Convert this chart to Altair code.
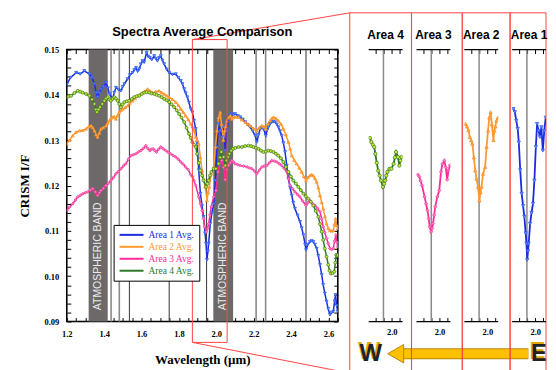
import altair as alt
import pandas as pd

# ------------------------------------------------------------------ data
SERIES = ["Area 1 Avg.", "Area 2 Avg.", "Area 3 Avg.", "Area 4 Avg."]

wl_area1 = [1.200, 1.220, 1.250, 1.272, 1.294, 1.321, 1.335, 1.348, 1.357, 1.365, 1.374, 1.383, 1.396, 1.410, 1.420, 1.428, 1.445, 1.454, 1.463, 1.476, 1.490, 1.499, 1.508, 1.525, 1.538, 1.552, 1.561, 1.570, 1.579, 1.588, 1.596, 1.605, 1.614, 1.627, 1.635, 1.644, 1.655, 1.668, 1.676, 1.685, 1.694, 1.703, 1.712, 1.721, 1.735, 1.748, 1.765, 1.783, 1.797, 1.810, 1.819, 1.828, 1.836, 1.845, 1.854, 1.863, 1.872, 1.881, 1.890, 1.897, 1.906, 1.915, 1.924, 1.932, 1.940, 1.945, 1.950, 1.955, 1.959, 1.968, 1.977, 1.986, 1.995, 2.004, 2.012, 2.021, 2.030, 2.039, 2.048, 2.057, 2.066, 2.075, 2.084, 2.092, 2.101, 2.115, 2.128, 2.142, 2.155, 2.168, 2.181, 2.195, 2.208, 2.217, 2.226, 2.235, 2.244, 2.252, 2.265, 2.272, 2.279, 2.288, 2.297, 2.306, 2.315, 2.324, 2.332, 2.341, 2.350, 2.359, 2.368, 2.377, 2.386, 2.395, 2.404, 2.412, 2.421, 2.435, 2.448, 2.457, 2.466, 2.475, 2.480, 2.490, 2.501, 2.510, 2.519, 2.528, 2.537, 2.546, 2.555, 2.564, 2.572, 2.581, 2.590, 2.599, 2.608, 2.617, 2.626, 2.633, 2.638, 2.644, 2.650]
if_area1 = [0.1423, 0.1438, 0.1449, 0.1446, 0.1453, 0.1446, 0.1438, 0.1424, 0.1405, 0.1395, 0.1404, 0.1413, 0.1418, 0.1427, 0.1415, 0.1402, 0.1391, 0.1405, 0.1416, 0.1412, 0.1409, 0.1418, 0.1424, 0.1435, 0.1444, 0.1449, 0.1455, 0.1460, 0.1452, 0.1457, 0.1468, 0.1475, 0.1472, 0.1493, 0.1485, 0.1482, 0.1478, 0.1486, 0.1480, 0.1475, 0.1482, 0.1486, 0.1476, 0.1468, 0.1456, 0.1449, 0.1445, 0.1446, 0.1438, 0.1431, 0.1424, 0.1413, 0.1404, 0.1395, 0.1383, 0.1369, 0.1362, 0.1343, 0.1325, 0.1295, 0.1234, 0.1182, 0.1155, 0.1131, 0.1095, 0.1072, 0.1036, 0.1055, 0.1072, 0.1116, 0.1140, 0.1160, 0.1211, 0.1285, 0.1336, 0.1321, 0.1307, 0.1329, 0.1277, 0.1321, 0.1350, 0.1356, 0.1358, 0.1356, 0.1358, 0.1354, 0.1351, 0.1346, 0.1340, 0.1334, 0.1329, 0.1320, 0.1310, 0.1296, 0.1312, 0.1325, 0.1327, 0.1325, 0.1310, 0.1322, 0.1329, 0.1336, 0.1340, 0.1341, 0.1340, 0.1335, 0.1329, 0.1320, 0.1310, 0.1294, 0.1274, 0.1244, 0.1215, 0.1195, 0.1178, 0.1162, 0.1149, 0.1134, 0.1120, 0.1106, 0.1091, 0.1070, 0.1058, 0.1070, 0.1076, 0.1078, 0.1076, 0.1070, 0.1061, 0.1045, 0.1025, 0.1003, 0.0981, 0.0962, 0.0944, 0.0928, 0.0915, 0.0920, 0.0922, 0.0945, 0.0959, 0.0935, 0.0922]

wl_area2 = [1.200, 1.214, 1.232, 1.250, 1.268, 1.285, 1.303, 1.317, 1.330, 1.339, 1.348, 1.357, 1.365, 1.374, 1.383, 1.396, 1.410, 1.419, 1.428, 1.436, 1.445, 1.454, 1.463, 1.472, 1.481, 1.490, 1.499, 1.512, 1.525, 1.538, 1.552, 1.565, 1.579, 1.592, 1.605, 1.618, 1.632, 1.645, 1.659, 1.676, 1.694, 1.708, 1.721, 1.735, 1.748, 1.765, 1.783, 1.797, 1.810, 1.823, 1.836, 1.850, 1.863, 1.872, 1.881, 1.890, 1.898, 1.906, 1.915, 1.924, 1.932, 1.941, 1.950, 1.957, 1.963, 1.973, 1.986, 1.995, 2.004, 2.012, 2.021, 2.028, 2.038, 2.044, 2.050, 2.057, 2.066, 2.075, 2.084, 2.092, 2.101, 2.119, 2.137, 2.155, 2.168, 2.181, 2.199, 2.217, 2.230, 2.244, 2.255, 2.265, 2.277, 2.288, 2.297, 2.306, 2.319, 2.332, 2.346, 2.359, 2.372, 2.386, 2.395, 2.404, 2.417, 2.430, 2.444, 2.457, 2.468, 2.480, 2.490, 2.501, 2.510, 2.519, 2.528, 2.537, 2.546, 2.555, 2.564, 2.572, 2.581, 2.590, 2.599, 2.608, 2.617, 2.626, 2.633, 2.638, 2.644, 2.650]
if_area2 = [0.1292, 0.1300, 0.1310, 0.1318, 0.1321, 0.1322, 0.1325, 0.1330, 0.1332, 0.1328, 0.1321, 0.1312, 0.1307, 0.1316, 0.1325, 0.1328, 0.1332, 0.1338, 0.1343, 0.1348, 0.1351, 0.1352, 0.1347, 0.1355, 0.1362, 0.1366, 0.1369, 0.1372, 0.1376, 0.1382, 0.1387, 0.1392, 0.1398, 0.1401, 0.1405, 0.1408, 0.1413, 0.1409, 0.1405, 0.1407, 0.1409, 0.1405, 0.1402, 0.1398, 0.1395, 0.1390, 0.1384, 0.1377, 0.1369, 0.1362, 0.1354, 0.1346, 0.1336, 0.1330, 0.1322, 0.1307, 0.1300, 0.1292, 0.1262, 0.1233, 0.1215, 0.1197, 0.1167, 0.1185, 0.1197, 0.1226, 0.1241, 0.1285, 0.1321, 0.1350, 0.1362, 0.1335, 0.1300, 0.1321, 0.1330, 0.1343, 0.1350, 0.1354, 0.1347, 0.1352, 0.1351, 0.1351, 0.1345, 0.1340, 0.1336, 0.1332, 0.1326, 0.1321, 0.1328, 0.1332, 0.1330, 0.1325, 0.1336, 0.1343, 0.1348, 0.1351, 0.1348, 0.1343, 0.1336, 0.1325, 0.1312, 0.1296, 0.1281, 0.1266, 0.1256, 0.1248, 0.1239, 0.1230, 0.1220, 0.1211, 0.1218, 0.1222, 0.1224, 0.1222, 0.1216, 0.1208, 0.1195, 0.1178, 0.1163, 0.1149, 0.1132, 0.1116, 0.1106, 0.1101, 0.1100, 0.1101, 0.1115, 0.1127, 0.1112, 0.1105]

wl_area3 = [1.200, 1.214, 1.232, 1.246, 1.259, 1.272, 1.285, 1.299, 1.312, 1.326, 1.339, 1.352, 1.365, 1.374, 1.383, 1.396, 1.410, 1.423, 1.436, 1.450, 1.463, 1.476, 1.490, 1.503, 1.516, 1.530, 1.543, 1.556, 1.570, 1.583, 1.596, 1.610, 1.623, 1.633, 1.644, 1.653, 1.662, 1.671, 1.680, 1.691, 1.703, 1.716, 1.730, 1.743, 1.756, 1.770, 1.783, 1.797, 1.810, 1.823, 1.836, 1.850, 1.863, 1.872, 1.881, 1.890, 1.906, 1.915, 1.924, 1.932, 1.938, 1.947, 1.953, 1.959, 1.966, 1.973, 1.986, 1.998, 2.009, 2.018, 2.030, 2.039, 2.048, 2.057, 2.066, 2.075, 2.084, 2.092, 2.101, 2.115, 2.128, 2.146, 2.164, 2.177, 2.190, 2.204, 2.217, 2.230, 2.244, 2.257, 2.270, 2.284, 2.297, 2.310, 2.324, 2.337, 2.350, 2.363, 2.377, 2.386, 2.395, 2.408, 2.421, 2.435, 2.448, 2.462, 2.480, 2.490, 2.501, 2.515, 2.528, 2.541, 2.555, 2.564, 2.572, 2.581, 2.590, 2.599, 2.608, 2.617, 2.626, 2.633, 2.640, 2.646, 2.650]
if_area3 = [0.1145, 0.1152, 0.1160, 0.1168, 0.1175, 0.1178, 0.1182, 0.1184, 0.1186, 0.1190, 0.1193, 0.1186, 0.1178, 0.1184, 0.1189, 0.1194, 0.1200, 0.1205, 0.1211, 0.1218, 0.1226, 0.1231, 0.1237, 0.1243, 0.1248, 0.1258, 0.1266, 0.1268, 0.1270, 0.1274, 0.1277, 0.1282, 0.1288, 0.1282, 0.1277, 0.1280, 0.1281, 0.1277, 0.1274, 0.1280, 0.1285, 0.1281, 0.1277, 0.1273, 0.1270, 0.1266, 0.1263, 0.1258, 0.1252, 0.1247, 0.1241, 0.1235, 0.1224, 0.1220, 0.1210, 0.1200, 0.1175, 0.1160, 0.1145, 0.1127, 0.1109, 0.1098, 0.1105, 0.1116, 0.1135, 0.1153, 0.1175, 0.1189, 0.1230, 0.1248, 0.1255, 0.1240, 0.1213, 0.1235, 0.1245, 0.1250, 0.1255, 0.1252, 0.1248, 0.1246, 0.1244, 0.1243, 0.1241, 0.1239, 0.1237, 0.1232, 0.1226, 0.1234, 0.1241, 0.1243, 0.1244, 0.1250, 0.1255, 0.1254, 0.1252, 0.1248, 0.1244, 0.1238, 0.1230, 0.1215, 0.1200, 0.1193, 0.1186, 0.1180, 0.1175, 0.1166, 0.1156, 0.1162, 0.1167, 0.1160, 0.1156, 0.1150, 0.1142, 0.1126, 0.1109, 0.1096, 0.1083, 0.1072, 0.1061, 0.1059, 0.1061, 0.1078, 0.1091, 0.1075, 0.1065]

wl_area4 = [1.200, 1.210, 1.223, 1.241, 1.259, 1.272, 1.285, 1.303, 1.321, 1.335, 1.348, 1.356, 1.362, 1.370, 1.378, 1.390, 1.401, 1.410, 1.419, 1.428, 1.436, 1.445, 1.454, 1.463, 1.472, 1.481, 1.490, 1.499, 1.508, 1.521, 1.534, 1.548, 1.561, 1.574, 1.588, 1.601, 1.614, 1.627, 1.641, 1.654, 1.668, 1.681, 1.694, 1.708, 1.721, 1.735, 1.748, 1.761, 1.774, 1.788, 1.801, 1.814, 1.828, 1.841, 1.854, 1.863, 1.872, 1.881, 1.890, 1.897, 1.906, 1.915, 1.924, 1.932, 1.945, 1.952, 1.959, 1.966, 1.973, 1.986, 1.998, 2.012, 2.020, 2.027, 2.039, 2.048, 2.055, 2.062, 2.070, 2.080, 2.090, 2.101, 2.119, 2.137, 2.155, 2.172, 2.186, 2.199, 2.212, 2.226, 2.239, 2.252, 2.265, 2.279, 2.292, 2.306, 2.319, 2.332, 2.346, 2.359, 2.372, 2.386, 2.399, 2.412, 2.426, 2.439, 2.452, 2.466, 2.479, 2.492, 2.506, 2.519, 2.532, 2.546, 2.555, 2.564, 2.572, 2.581, 2.590, 2.599, 2.606, 2.613, 2.622, 2.631, 2.637, 2.642, 2.647, 2.650]
if_area4 = [0.1395, 0.1397, 0.1398, 0.1404, 0.1409, 0.1407, 0.1405, 0.1402, 0.1398, 0.1390, 0.1380, 0.1368, 0.1362, 0.1368, 0.1373, 0.1380, 0.1387, 0.1392, 0.1395, 0.1390, 0.1387, 0.1391, 0.1395, 0.1392, 0.1387, 0.1380, 0.1373, 0.1379, 0.1384, 0.1386, 0.1387, 0.1391, 0.1395, 0.1397, 0.1398, 0.1402, 0.1405, 0.1406, 0.1405, 0.1403, 0.1402, 0.1400, 0.1398, 0.1395, 0.1391, 0.1388, 0.1384, 0.1379, 0.1373, 0.1366, 0.1358, 0.1350, 0.1340, 0.1327, 0.1314, 0.1305, 0.1296, 0.1290, 0.1285, 0.1270, 0.1250, 0.1233, 0.1222, 0.1211, 0.1197, 0.1204, 0.1211, 0.1222, 0.1230, 0.1237, 0.1237, 0.1248, 0.1262, 0.1274, 0.1263, 0.1244, 0.1255, 0.1263, 0.1270, 0.1277, 0.1281, 0.1283, 0.1285, 0.1285, 0.1287, 0.1288, 0.1287, 0.1285, 0.1283, 0.1281, 0.1277, 0.1274, 0.1275, 0.1277, 0.1276, 0.1274, 0.1270, 0.1266, 0.1260, 0.1252, 0.1241, 0.1230, 0.1220, 0.1211, 0.1204, 0.1197, 0.1190, 0.1182, 0.1176, 0.1171, 0.1164, 0.1156, 0.1144, 0.1131, 0.1115, 0.1098, 0.1080, 0.1061, 0.1043, 0.1025, 0.1012, 0.1006, 0.1007, 0.1010, 0.1030, 0.1047, 0.1045, 0.1047]

BAND_START = [1.317, 1.984]
BAND_END = [1.419, 2.090]
BAND_TEXT = ["ATMOSPHERIC BAND", "ATMOSPHERIC BAND"]
LINES_LIGHT = [1.437, 1.481, 2.213, 2.264]
LINES_DARK = [1.535, 1.748, 1.948, 2.480]
MAIN_TITLE = "Spectra Average Comparison"
PANEL_TITLES = ["Area 4", "Area 3", "Area 2", "Area 1"]
PANEL_SERIES = [3, 2, 1, 0]

# ------------------------------------------------------------------ styles
SERIF = "Liberation Serif"
SANS = "Liberation Sans"
LINE_COLORS = ["#1c2be0", "#ff9a30", "#ff2a98", "#2b7a2b"]
MARK_FILL = ["#6a98ff", "#ffb060", "#ff7cc0", "#c9e83a"]
MARK_STROKE = ["#2a55f0", "#ff8a1a", "#f23c9e", "#3a7a20"]
SHAPES = ["triangle-down", "triangle-up", "diamond", "circle"]
RED = "#ff4444"
BAND_GRAY = "#6e6969"
GOLD = "#ffc000"

XD = [1.2, 2.65]
YD = [0.09, 0.15]
PW = [1.855, 2.068]          # zoom window of the small panels
W_MAIN, H = 272, 273
W_PANEL = 34

series_wl = [wl_area1, wl_area2, wl_area3, wl_area4]
series_if = [if_area1, if_area2, if_area3, if_area4]
rows = []
for name, w, v in zip(SERIES, series_wl, series_if):
    assert len(w) == len(v), name
    for a, b in zip(w, v):
        rows.append({"series": name, "wl": a, "iF": b})
df = pd.DataFrame(rows)

one = pd.DataFrame({"k": [0]})
xs = alt.Scale(domain=XD, nice=False, zero=False)
ys = alt.Scale(domain=YD, nice=False, zero=False)

x_ticks = [round(1.2 + 0.05 * k, 2) for k in range(30)]
y_ticks = [round(0.09 + 0.002 * k, 3) for k in range(31)]

lab = dict(labelFont=SERIF, labelFontWeight="bold", labelFontSize=8.5, labelColor="black")
tick = dict(domain=False, tickSize=4, offset=-4, tickColor="black", tickWidth=1, grid=False)

ax_bottom = alt.Axis(orient="bottom", values=x_ticks, labelFlush=False, labelOverlap=False,
                     labelExpr="round(datum.value*100) % 20 == 0 ? format(datum.value, '.1f') : ''",
                     labelPadding=8, title="Wavelength (µm)", titleFont=SERIF, titleFontSize=13,
                     titleFontWeight="bold", titleColor="black", titlePadding=16, **lab, **tick)
ax_left = alt.Axis(orient="left", values=y_ticks, labelFlush=False, labelOverlap=False,
                   labelExpr="round(datum.value*1000) % 10 == 0 ? format(datum.value, '.2f') : ''",
                   labelPadding=8, title="CRISM I/F", titleFont=SERIF, titleFontSize=13,
                   titleFontWeight="bold", titleColor="black", titlePadding=13, **lab, **tick)
ax_top = alt.Axis(orient="top", values=x_ticks, labels=False, title=None, **tick)
ax_right = alt.Axis(orient="right", values=y_ticks, labels=False, title=None, **tick)

label_color_expr = " : ".join(
    f"datum.label == '{s}' ? '{c}'" for s, c in zip(SERIES, LINE_COLORS)
) + " : 'black'"

legend = alt.Legend(title=None, orient="none", legendX=47, legendY=176, direction="vertical",
                    strokeColor="black", fillColor="white", padding=5,
                    symbolType="M-1,0L5,0", symbolSize=64, symbolStrokeWidth=2,
                    labelFont=SERIF, labelFontSize=9.5, labelOffset=20, rowPadding=2,
                    labelColor={"expr": label_color_expr})

# ---- main chart layers
bands_df = pd.DataFrame({"start": BAND_START, "end": BAND_END, "text": BAND_TEXT})
bands = alt.Chart(bands_df).mark_rect(color=BAND_GRAY).encode(
    x=alt.X("start:Q", scale=xs, axis=None), x2="end:Q",
    y=alt.YDatum(YD[1], scale=ys, axis=None), y2=alt.Y2Datum(YD[0]))
band_text = alt.Chart(bands_df).transform_calculate(mid="(datum.start + datum.end) / 2").mark_text(
    angle=270, color="#ececec", font=SANS, fontSize=10.5).encode(
    x=alt.X("mid:Q", scale=xs, axis=None), y=alt.YDatum(0.1044, scale=ys, axis=None), text="text:N")

vl_light = alt.Chart(pd.DataFrame({"x": LINES_LIGHT})).mark_rule(color="#8a8a8a", strokeWidth=1.6).encode(
    x=alt.X("x:Q", scale=xs, axis=None), y=alt.YDatum(YD[1], axis=None), y2=alt.Y2Datum(YD[0]))
vl_dark = alt.Chart(pd.DataFrame({"x": LINES_DARK})).mark_rule(color="#333333", strokeWidth=1).encode(
    x=alt.X("x:Q", scale=xs, axis=None), y=alt.YDatum(YD[1], axis=None), y2=alt.Y2Datum(YD[0]))

lines = alt.Chart(df).mark_line(strokeWidth=1.5, clip=True).encode(
    x=alt.X("wl:Q", scale=xs, axis=ax_bottom),
    y=alt.Y("iF:Q", scale=ys, axis=ax_left),
    color=alt.Color("series:N", scale=alt.Scale(domain=SERIES, range=LINE_COLORS), legend=legend))
points = alt.Chart(df).mark_point(filled=True, size=9, strokeWidth=0.7, opacity=1, clip=True).encode(
    x=alt.X("wl:Q", scale=xs, axis=None),
    y=alt.Y("iF:Q", scale=ys, axis=None),
    fill=alt.Fill("series:N", scale=alt.Scale(domain=SERIES, range=MARK_FILL), legend=None),
    stroke=alt.Stroke("series:N", scale=alt.Scale(domain=SERIES, range=MARK_STROKE), legend=None),
    shape=alt.Shape("series:N", scale=alt.Scale(domain=SERIES, range=SHAPES), legend=None))

mirror = alt.Chart(df.head(1)).mark_point(opacity=0).encode(
    x=alt.X("wl:Q", scale=xs, axis=ax_top), y=alt.Y("iF:Q", scale=ys, axis=ax_right))

title_main = alt.Chart(pd.DataFrame({"t": [MAIN_TITLE]})).mark_text(
    font=SANS, fontSize=13, fontWeight="bold", color="black").encode(
    x=alt.XDatum(1.925, axis=None), y=alt.YDatum(0.15396, axis=None), text="t:N")

# red zoom box and connectors (decoration)
zoom_box = alt.Chart(one).mark_rect(filled=False, stroke=RED, strokeWidth=1).encode(
    x=alt.XDatum(1.872, axis=None), x2=alt.X2Datum(2.058),
    y=alt.YDatum(0.1522, axis=None), y2=alt.Y2Datum(0.0854))
conn_top = alt.Chart(one).mark_rule(color=RED, strokeWidth=1).encode(
    x=alt.XDatum(1.872, axis=None), x2=alt.X2Datum(2.7147),
    y=alt.YDatum(0.1522, axis=None), y2=alt.Y2Datum(0.1581))
conn_bot = alt.Chart(one).mark_rule(color=RED, strokeWidth=1).encode(
    x=alt.XDatum(1.872, axis=None), x2=alt.X2Datum(2.7147),
    y=alt.YDatum(0.0854, axis=None), y2=alt.Y2Datum(0.0786))

# W <- E arrow (decoration, below the zoom panels)
shaft_out = alt.Chart(one).mark_rule(color="#b8860b", strokeWidth=11, strokeCap="butt").encode(
    x=alt.XDatum(2.965, axis=None), x2=alt.X2Datum(3.670),
    y=alt.YDatum(0.0829, axis=None))
shaft = alt.Chart(one).mark_rule(color=GOLD, strokeWidth=9, strokeCap="butt").encode(
    x=alt.XDatum(2.960, axis=None), x2=alt.X2Datum(3.668),
    y=alt.YDatum(0.0829, axis=None))
head = alt.Chart(one).mark_point(shape="triangle-left", size=340, filled=True, color=GOLD,
                                 stroke="#b8860b", strokeWidth=1, opacity=1).encode(
    x=alt.XDatum(2.960, axis=None), y=alt.YDatum(0.0829, axis=None))
compass = pd.DataFrame({"x": [2.826, 3.727], "t": ["W", "E"]})
txt_gold = alt.Chart(compass).mark_text(font=SANS, fontWeight="bold", fontSize=24, color="#e0a800",
                                        dx=-1.5, dy=-1.5).encode(
    x=alt.X("x:Q", scale=xs, axis=None), y=alt.YDatum(0.0829, axis=None), text="t:N")
txt_dark = alt.Chart(compass).mark_text(font=SANS, fontWeight="bold", fontSize=24, color="#222222").encode(
    x=alt.X("x:Q", scale=xs, axis=None), y=alt.YDatum(0.0829, axis=None), text="t:N")

main = alt.layer(
    bands, band_text, vl_light, vl_dark, lines, points, zoom_box, conn_top, conn_bot,
    shaft_out, shaft, head, txt_gold, txt_dark, title_main, mirror
).resolve_axis(x="independent", y="independent").properties(
    width=W_MAIN, height=H,
    view=alt.ViewBackground(stroke="black", strokeWidth=1.6),
)

# ---- zoom panels
BOXES = [(1.736, 2.124), (1.824, 2.143), (1.842, 2.143), (1.842, 2.068)]
pxs = alt.Scale(domain=PW, nice=False, zero=False)
p_ticks = [1.9, 1.95, 2.0, 2.05]


def panel(idx_series, title, box):
    sub = df[(df.series == SERIES[idx_series]) & (df.wl >= PW[0]) & (df.wl <= PW[1])]
    pb = alt.Axis(orient="bottom", values=p_ticks, labelExpr="datum.value == 2 ? '2.0' : ''",
                  labelPadding=6, labelFlush=False, labelOverlap=False, title=None, **lab, **tick)
    pt = alt.Axis(orient="top", values=p_ticks, labels=False, title=None, **tick)
    frame = alt.Chart(pd.DataFrame({"y": YD})).mark_rule(color="black", strokeWidth=1.3).encode(
        x=alt.XDatum(PW[0], scale=pxs, axis=None), x2=alt.X2Datum(PW[1]),
        y=alt.Y("y:Q", scale=ys, axis=None))
    grid = alt.Chart(one).mark_rule(color="#8a8a8a", strokeWidth=1.5).encode(
        x=alt.XDatum(1.948, scale=pxs, axis=None),
        y=alt.YDatum(YD[1], scale=ys, axis=None), y2=alt.Y2Datum(YD[0]))
    boxm = alt.Chart(one).mark_rect(filled=False, stroke=RED, strokeWidth=1).encode(
        x=alt.XDatum(box[0], scale=pxs, axis=None), x2=alt.X2Datum(box[1]),
        y=alt.YDatum(0.1581, scale=ys, axis=None), y2=alt.Y2Datum(0.0768))
    ttl = alt.Chart(pd.DataFrame({"t": [title]})).mark_text(
        font=SANS, fontSize=12, fontWeight="bold", color="black").encode(
        x=alt.XDatum((PW[0] + PW[1]) / 2, scale=pxs, axis=None),
        y=alt.YDatum(0.1533, scale=ys, axis=None), text="t:N")
    ln = alt.Chart(sub).mark_line(color=LINE_COLORS[idx_series], strokeWidth=1.8, clip=True).encode(
        x=alt.X("wl:Q", scale=pxs, axis=pb), y=alt.Y("iF:Q", scale=ys, axis=None))
    pt_m = alt.Chart(sub).mark_point(shape=SHAPES[idx_series], filled=True, size=11, opacity=1,
                                     fill=MARK_FILL[idx_series], stroke=MARK_STROKE[idx_series],
                                     strokeWidth=0.7, clip=True).encode(
        x=alt.X("wl:Q", scale=pxs, axis=None), y=alt.Y("iF:Q", scale=ys, axis=None))
    mir = alt.Chart(sub.head(1)).mark_point(opacity=0).encode(
        x=alt.X("wl:Q", scale=pxs, axis=pt), y=alt.Y("iF:Q", scale=ys, axis=None))
    return alt.layer(boxm, grid, frame, ttl, ln, pt_m, mir).resolve_axis(x="independent").properties(
        width=W_PANEL, height=H)


panels = alt.hconcat(*[panel(s, t, b) for s, t, b in zip(PANEL_SERIES, PANEL_TITLES, BOXES)],
                     spacing=14, bounds="flush")

chart = alt.hconcat(main, panels, spacing=31, bounds="flush").resolve_legend(
    color="independent").properties(
    padding={"left": 9, "top": 2, "right": 0, "bottom": 0}
).configure_view(stroke="transparent")

chart.save("out.html", embed_options={"renderer": "svg", "actions": False})
